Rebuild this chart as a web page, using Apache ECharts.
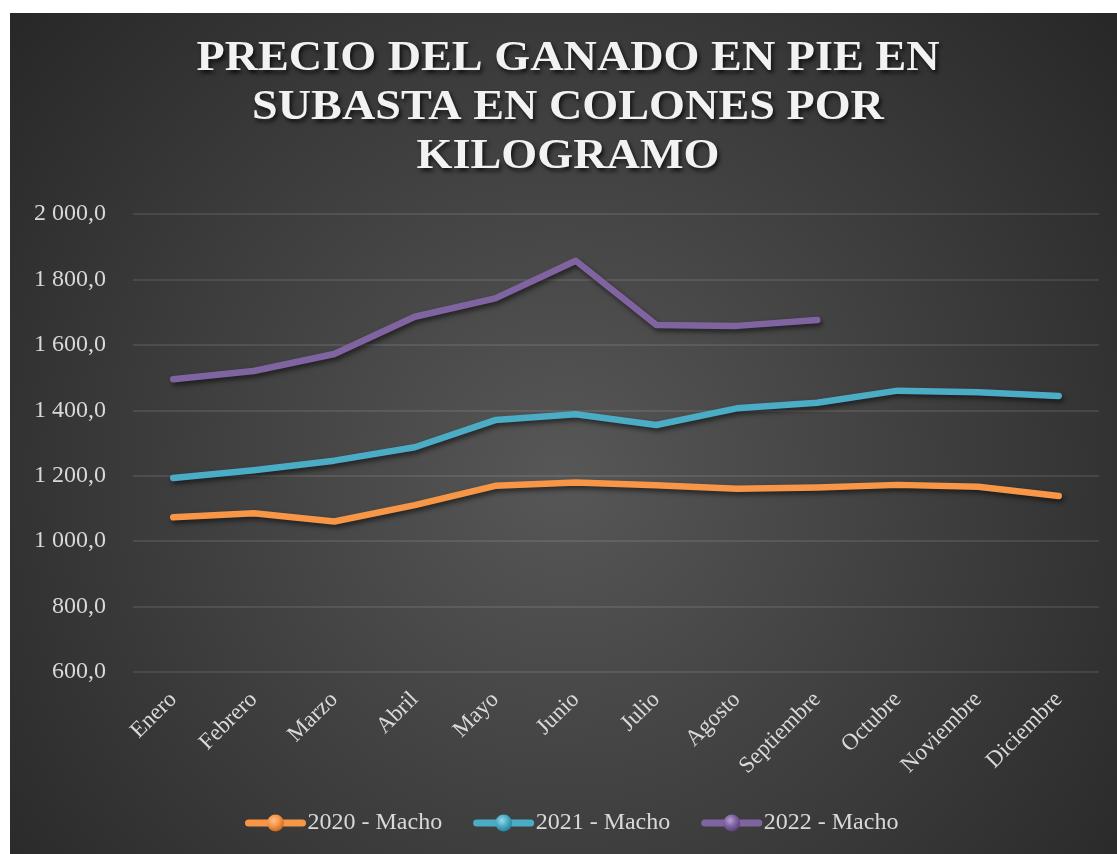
<!DOCTYPE html>
<html>
<head>
<meta charset="utf-8">
<script src="https://cdn.jsdelivr.net/npm/echarts@6/dist/echarts.min.js"></script>
<style>
  html, body { margin: 0; padding: 0; background: #ffffff; width: 1117px; height: 854px; overflow: hidden; }
  #main { position: absolute; left: 10px; top: 13px; width: 1107px; height: 841px; }
</style>
</head>
<body>
<div id="main"></div>
<script>
const titleText = 'PRECIO DEL GANADO EN PIE EN\nSUBASTA EN COLONES POR\nKILOGRAMO';
const categories = ['Enero', 'Febrero', 'Marzo', 'Abril', 'Mayo', 'Junio', 'Julio', 'Agosto', 'Septiembre', 'Octubre', 'Noviembre', 'Diciembre'];
const seriesNames = ['2020 - Macho', '2021 - Macho', '2022 - Macho'];
const values2020 = [1073, 1085, 1060, 1110, 1169, 1179, 1171, 1160, 1164, 1172, 1166, 1138];
const values2021 = [1193, 1217, 1246, 1287, 1370, 1388, 1355, 1406, 1423, 1460, 1455, 1444];
const values2022 = [1495, 1520, 1572, 1686, 1742, 1857, 1661, 1658, 1676];
const yMin = 600, yMax = 2000, yStep = 200;

const colors = ['#F79646', '#4BACC6', '#8064A2'];
const sphereLight = ['#FBC08E', '#9ED8E8', '#B8A2D4'];
const sphereDark = ['#C0631A', '#1F7E98', '#553B78'];
const FONT = '"Liberation Serif", "Times New Roman", serif';

function fmt(v) {
  const s = Number(v).toFixed(1);
  let [ip, dp] = s.split('.');
  ip = ip.replace(/\B(?=(\d{3})+(?!\d))/g, ' ');
  return ip + ',' + dp;
}

function sphere(i) {
  return {
    type: 'radial', x: 0.4, y: 0.35, r: 0.7,
    colorStops: [
      { offset: 0, color: sphereLight[i] },
      { offset: 0.5, color: colors[i] },
      { offset: 1, color: sphereDark[i] }
    ]
  };
}

const allValues = [values2020, values2021, values2022];
const series = allValues.map((vals, i) => ({
  name: seriesNames[i],
  type: 'line',
  data: vals,
  showSymbol: false,
  symbol: 'circle',
  smooth: false,
  itemStyle: { color: sphere(i) },
  lineStyle: {
    color: colors[i], width: 6.5, cap: 'round', join: 'round',
    shadowColor: 'rgba(0,0,0,0.55)', shadowBlur: 5, shadowOffsetX: 2, shadowOffsetY: 3
  },
  emphasis: { disabled: true }
}));

const chart = echarts.init(document.getElementById('main'), null, { renderer: 'canvas' });
chart.setOption({
  animation: false,
  backgroundColor: {
    type: 'radial', x: 0.5, y: 0.55, r: 0.88,
    colorStops: [
      { offset: 0, color: '#575757' },
      { offset: 1, color: '#262626' }
    ]
  },
  graphic: [{
    type: 'text',
    x: 558, y: 22,
    scaleX: 1.1,
    style: {
      text: titleText,
      font: 'bold 42px ' + FONT,
      fill: '#f2f2f2',
      align: 'center', textAlign: 'center',
      verticalAlign: 'top', textVerticalAlign: 'top',
      lineHeight: 49,
      textShadowColor: 'rgba(0,0,0,0.75)', textShadowBlur: 4, textShadowOffsetX: 2, textShadowOffsetY: 3
    }
  }],
  grid: { left: 123, right: 18, top: 201, bottom: 182, containLabel: false },
  legend: {
    data: seriesNames,
    left: 230, top: 793,
    itemWidth: 54, itemHeight: 21, itemGap: 31,
    lineStyle: { width: 7, cap: 'round' },
    textStyle: { color: '#d9d9d9', fontFamily: FONT, fontSize: 24 }
  },
  xAxis: {
    type: 'category',
    data: categories,
    boundaryGap: true,
    axisLine: { show: false },
    axisTick: { show: false },
    axisLabel: { rotate: 45, margin: 24, color: '#d9d9d9', fontFamily: FONT, fontSize: 23, interval: 0 }
  },
  yAxis: {
    type: 'value',
    min: yMin, max: yMax, interval: yStep,
    axisLine: { show: false },
    axisTick: { show: false },
    axisLabel: { margin: 27, color: '#d9d9d9', fontFamily: FONT, fontSize: 24, formatter: fmt },
    splitLine: { lineStyle: { color: 'rgba(255,255,255,0.13)', width: 1.5 } }
  },
  series: series
});
</script>
</body>
</html>
